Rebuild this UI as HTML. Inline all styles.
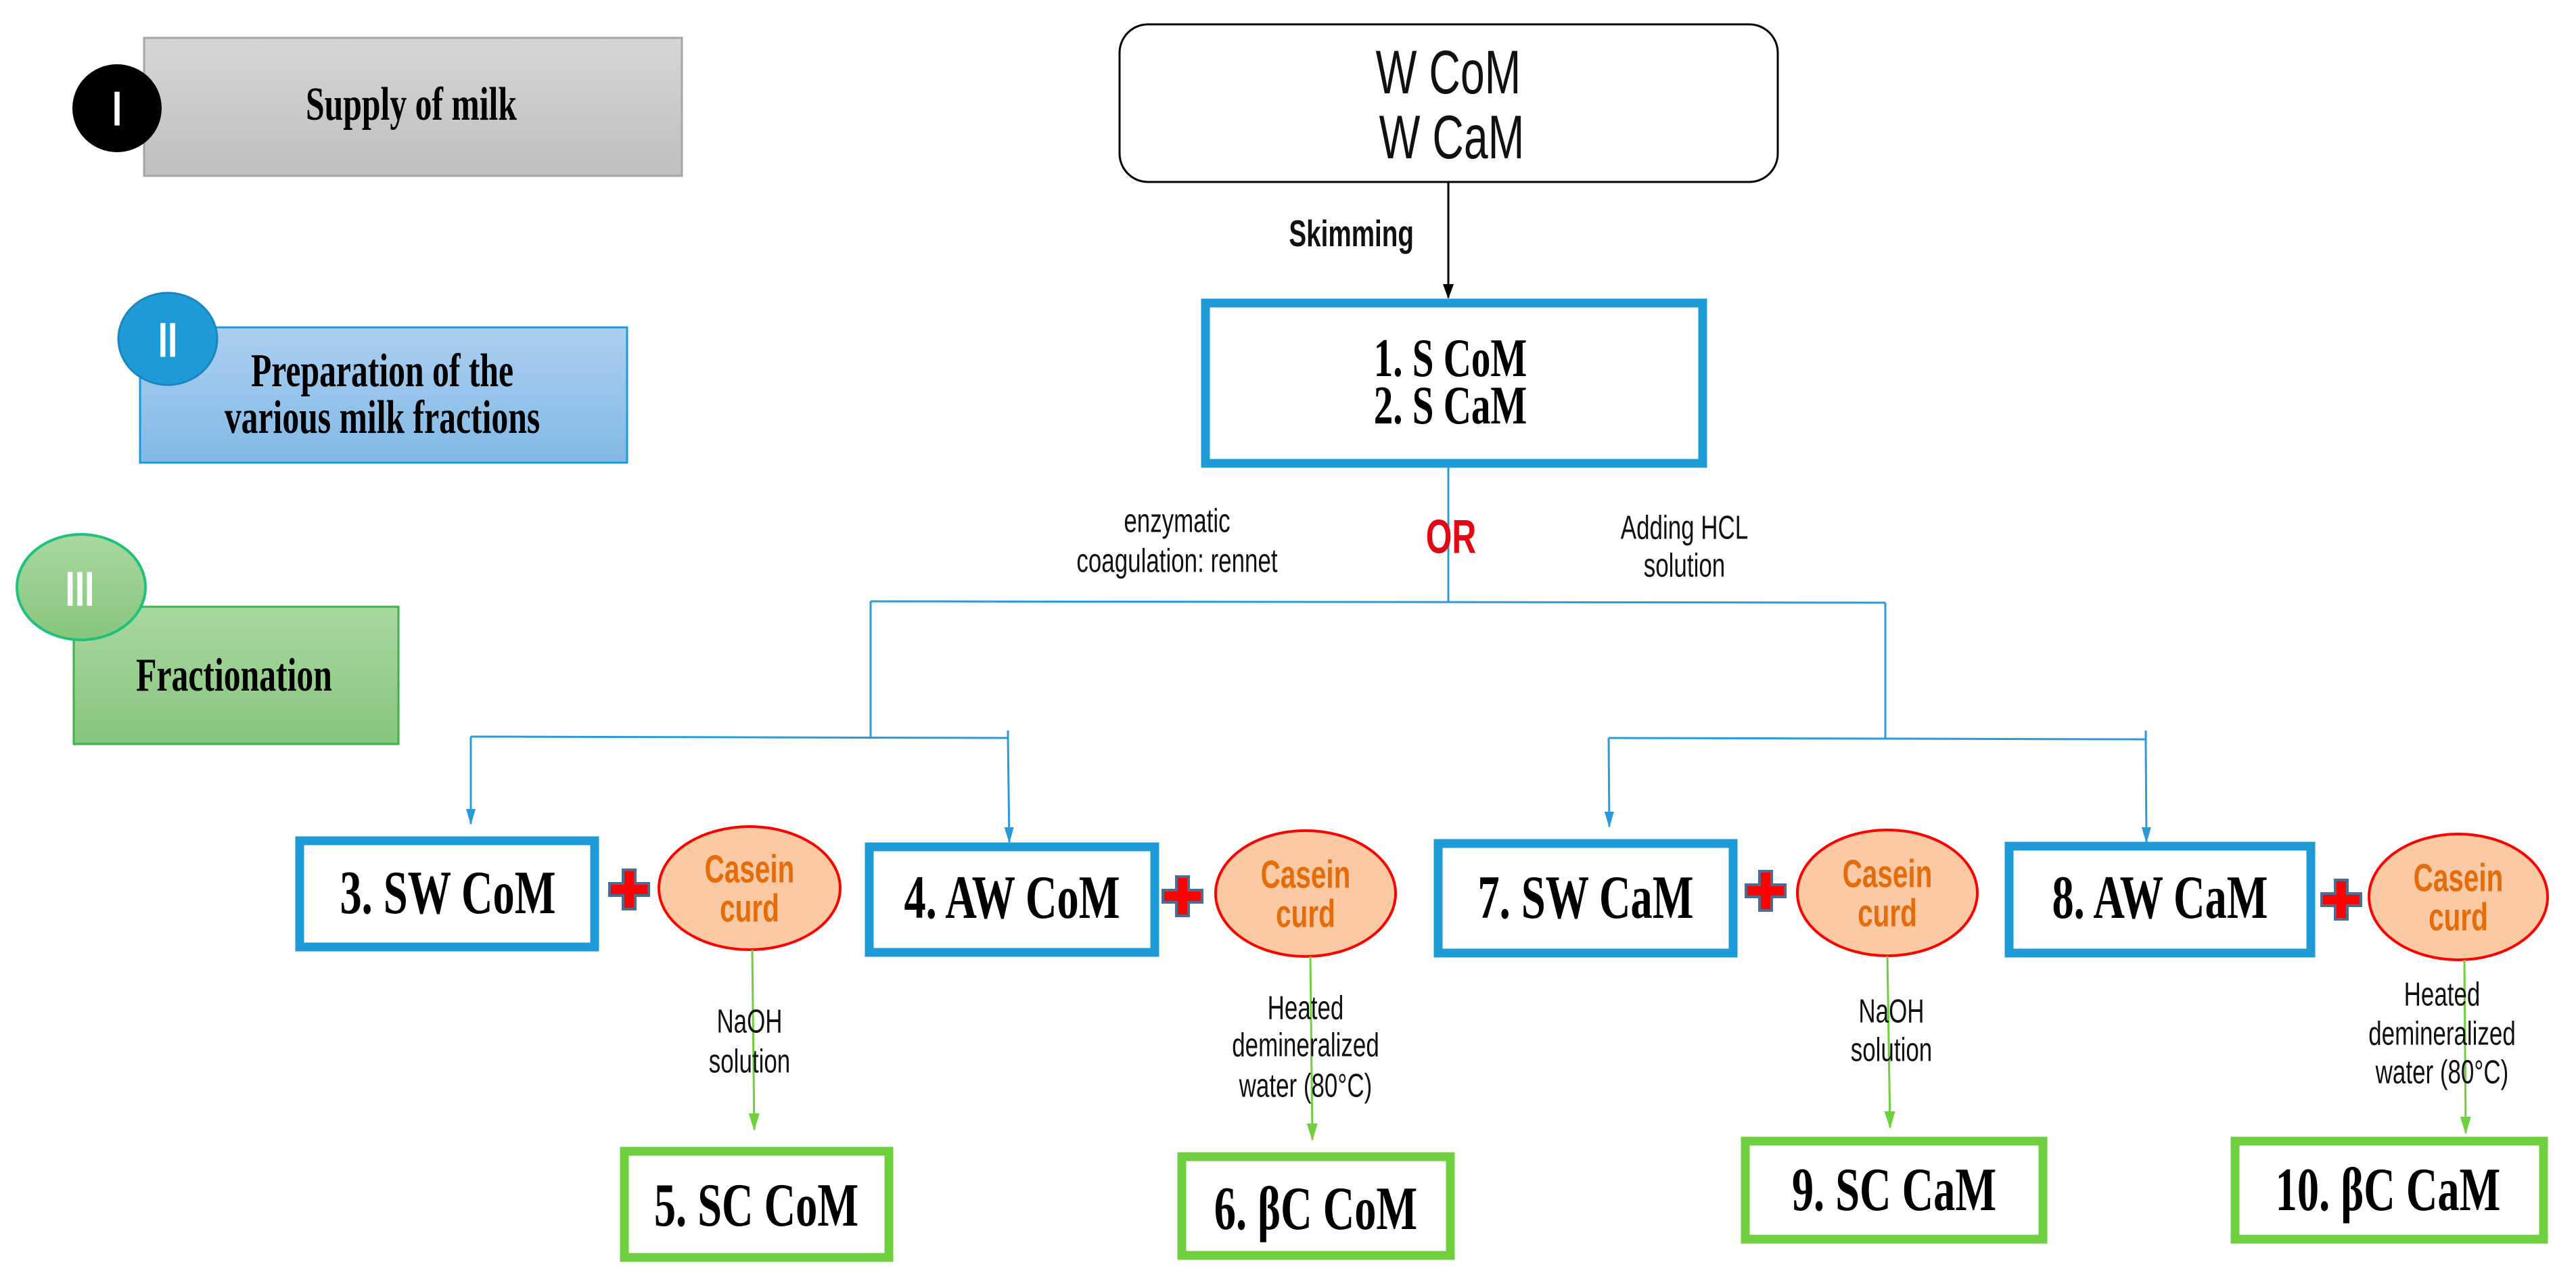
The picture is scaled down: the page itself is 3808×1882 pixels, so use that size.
<!DOCTYPE html>
<html><head><meta charset="utf-8"><style>
html,body{margin:0;padding:0;background:#fff;}
svg{display:block;}
text{transform-box:fill-box;transform-origin:center;transform:scale(0.92,1.3);}
.sv{font-family:"Liberation Serif",serif;font-weight:bold;fill:#000;}
.sa{font-family:"Liberation Sans",sans-serif;fill:#111;}
.cc{font-family:"Liberation Sans",sans-serif;font-weight:bold;fill:#e46c0a;font-size:44px;}
</style></head><body>
<svg width="3808" height="1882" viewBox="0 0 3808 1882" xmlns="http://www.w3.org/2000/svg">
<defs>
<linearGradient id="gg" x1="0" y1="0" x2="0" y2="1"><stop offset="0" stop-color="#d6d6d6"/><stop offset="1" stop-color="#bfbfbf"/></linearGradient>
<linearGradient id="bg" x1="0" y1="0" x2="0" y2="1"><stop offset="0" stop-color="#abcff0"/><stop offset="1" stop-color="#82b9e5"/></linearGradient>
<linearGradient id="gr" x1="0" y1="0" x2="0" y2="1"><stop offset="0" stop-color="#a9d7a0"/><stop offset="1" stop-color="#86c77c"/></linearGradient>
<marker id="ab" markerWidth="24" markerHeight="14" refX="22" refY="7" orient="auto" markerUnits="userSpaceOnUse"><path d="M0,0 L24,7 L0,14 Z" fill="#2b9bd8"/></marker>
<marker id="ag" markerWidth="26" markerHeight="16" refX="24" refY="8" orient="auto" markerUnits="userSpaceOnUse"><path d="M0,0 L26,8 L0,16 Z" fill="#6fcf3f"/></marker>
<marker id="ak" markerWidth="22" markerHeight="16" refX="20" refY="8" orient="auto" markerUnits="userSpaceOnUse"><path d="M0,0 L22,8 L0,16 Z" fill="#000"/></marker>
</defs>

<!-- Stage I -->
<rect x="213" y="56" width="795" height="204" fill="url(#gg)" stroke="#a6a6a6" stroke-width="3"/>
<ellipse cx="173" cy="160" rx="66" ry="65" fill="#000"/>
<text x="173" y="180" text-anchor="middle" font-family="Liberation Sans,sans-serif" font-weight="bold" font-size="56" fill="#fff">I</text>
<text x="608" y="172" text-anchor="middle" class="sv" font-size="54">Supply of milk</text>

<!-- Stage II -->
<rect x="207" y="484" width="720" height="200" fill="url(#bg)" stroke="#1e9bd7" stroke-width="3"/>
<ellipse cx="248" cy="501" rx="73" ry="68" fill="#1e9bd7" stroke="#1a86c0" stroke-width="3"/>
<text x="248" y="522" text-anchor="middle" font-family="Liberation Sans,sans-serif" font-weight="bold" font-size="56" fill="#fff">II</text>
<text x="565" y="566" text-anchor="middle" class="sv" font-size="54">Preparation of the</text>
<text x="565" y="635" text-anchor="middle" class="sv" font-size="54">various milk fractions</text>

<!-- Stage III -->
<rect x="109" y="897" width="480" height="203" fill="url(#gr)" stroke="#3fb24a" stroke-width="3"/>
<ellipse cx="120" cy="868" rx="95" ry="78" fill="url(#gr)" stroke="#1ec27a" stroke-width="4"/>
<text x="118" y="890" text-anchor="middle" font-family="Liberation Sans,sans-serif" font-weight="bold" font-size="56" fill="#fff">III</text>
<text x="346" y="1016" text-anchor="middle" class="sv" font-size="54">Fractionation</text>

<!-- Top rounded box -->
<rect x="1655" y="36" width="973" height="233" rx="42" fill="#fff" stroke="#000" stroke-width="3"/>
<text x="2141" y="131" text-anchor="middle" class="sa" font-size="70">W CoM</text>
<text x="2146" y="227" text-anchor="middle" class="sa" font-size="70">W CaM</text>

<line x1="2141" y1="269" x2="2141" y2="440" stroke="#000" stroke-width="3" marker-end="url(#ak)"/>
<text x="2098" y="360" text-anchor="end" class="sa" font-weight="bold" font-size="42">Skimming</text>

<!-- Box 1 -->
<rect x="1782" y="448" width="735" height="237" fill="#fff" stroke="#1e9bd7" stroke-width="13"/>
<text x="2144" y="550" text-anchor="middle" class="sv" font-size="62">1. S CoM</text>
<text x="2144" y="620" text-anchor="middle" class="sv" font-size="62">2. S CaM</text>

<!-- Branch lines -->
<g stroke="#2b9bd8" stroke-width="3" fill="none">
<line x1="2141" y1="691" x2="2141" y2="889"/>
<line x1="1287" y1="889" x2="2787" y2="891"/>
<line x1="1287" y1="889" x2="1287" y2="1091"/>
<line x1="2787" y1="891" x2="2787" y2="1093"/>
<line x1="696" y1="1089" x2="1490" y2="1091"/>
<line x1="2378" y1="1091" x2="3172" y2="1093"/>
<line x1="1490" y1="1080" x2="1490" y2="1091"/>
<line x1="3172" y1="1080" x2="3172" y2="1093"/>
<line x1="696" y1="1089" x2="696" y2="1218" marker-end="url(#ab)"/>
<line x1="1490" y1="1091" x2="1492" y2="1245" marker-end="url(#ab)"/>
<line x1="2378" y1="1091" x2="2379" y2="1222" marker-end="url(#ab)"/>
<line x1="3172" y1="1093" x2="3173" y2="1245" marker-end="url(#ab)"/>
</g>
<text x="2145" y="812" text-anchor="middle" font-family="Liberation Sans,sans-serif" font-weight="bold" font-size="54" fill="#e30613">OR</text>
<text x="1740" y="783" text-anchor="middle" class="sa" font-size="38">enzymatic</text>
<text x="1740" y="842" text-anchor="middle" class="sa" font-size="38">coagulation: rennet</text>
<text x="2490" y="793" text-anchor="middle" class="sa" font-size="38">Adding HCL</text>
<text x="2490" y="849" text-anchor="middle" class="sa" font-size="38">solution</text>

<!-- Row of boxes -->
<g fill="#fff" stroke="#1e9bd7" stroke-width="13">
<rect x="443" y="1243" width="436" height="157"/>
<rect x="1285" y="1252" width="422" height="156"/>
<rect x="2126" y="1247" width="436" height="162"/>
<rect x="2970" y="1251" width="446" height="158"/>
</g>
<text x="662" y="1343" text-anchor="middle" class="sv" font-size="70">3. SW CoM</text>
<text x="1496" y="1350" text-anchor="middle" class="sv" font-size="70">4. AW CoM</text>
<text x="2344" y="1350" text-anchor="middle" class="sv" font-size="70">7. SW CaM</text>
<text x="3193" y="1350" text-anchor="middle" class="sv" font-size="70">8. AW CaM</text>

<!-- plus signs -->
<g fill="#f00" stroke="#4a6d94" stroke-width="4">
<path d="M921,1286 h18 v20 h20 v18 h-20 v20 h-18 v-20 h-20 v-18 h20 z"/>
<path d="M1739,1296 h18 v20 h20 v18 h-20 v20 h-18 v-20 h-20 v-18 h20 z"/>
<path d="M2601,1288 h18 v20 h20 v18 h-20 v20 h-18 v-20 h-20 v-18 h20 z"/>
<path d="M3452,1301 h18 v20 h20 v18 h-20 v20 h-18 v-20 h-20 v-18 h20 z"/>
</g>

<!-- casein circles -->
<g fill="#fcc9a5" stroke="#f00" stroke-width="4">
<ellipse cx="1108" cy="1313" rx="134" ry="91"/>
<ellipse cx="1930" cy="1321" rx="133" ry="93"/>
<ellipse cx="2790" cy="1320" rx="133" ry="93"/>
<ellipse cx="3634" cy="1326" rx="132" ry="93"/>
</g>
<text x="1108" y="1300" text-anchor="middle" class="cc">Casein</text>
<text x="1108" y="1358" text-anchor="middle" class="cc">curd</text>
<text x="1930" y="1308" text-anchor="middle" class="cc">Casein</text>
<text x="1930" y="1366" text-anchor="middle" class="cc">curd</text>
<text x="2790" y="1307" text-anchor="middle" class="cc">Casein</text>
<text x="2790" y="1365" text-anchor="middle" class="cc">curd</text>
<text x="3634" y="1313" text-anchor="middle" class="cc">Casein</text>
<text x="3634" y="1371" text-anchor="middle" class="cc">curd</text>

<!-- green arrows -->
<g stroke="#6fcf3f" stroke-width="3">
<line x1="1112" y1="1404" x2="1115" y2="1670" marker-end="url(#ag)"/>
<line x1="1937" y1="1414" x2="1940" y2="1685" marker-end="url(#ag)"/>
<line x1="2790" y1="1413" x2="2794" y2="1667" marker-end="url(#ag)"/>
<line x1="3643" y1="1419" x2="3645" y2="1675" marker-end="url(#ag)"/>
</g>
<text x="1108" y="1523" text-anchor="middle" class="sa" font-size="38">NaOH</text>
<text x="1108" y="1582" text-anchor="middle" class="sa" font-size="38">solution</text>
<text x="1930" y="1503" text-anchor="middle" class="sa" font-size="38">Heated</text>
<text x="1930" y="1558" text-anchor="middle" class="sa" font-size="38">demineralized</text>
<text x="1930" y="1618" text-anchor="middle" class="sa" font-size="38">water (80°C)</text>
<text x="2796" y="1508" text-anchor="middle" class="sa" font-size="38">NaOH</text>
<text x="2796" y="1565" text-anchor="middle" class="sa" font-size="38">solution</text>
<text x="3610" y="1483" text-anchor="middle" class="sa" font-size="38">Heated</text>
<text x="3610" y="1541" text-anchor="middle" class="sa" font-size="38">demineralized</text>
<text x="3610" y="1598" text-anchor="middle" class="sa" font-size="38">water (80°C)</text>

<!-- bottom green boxes -->
<g fill="#fff" stroke="#6fcf3f" stroke-width="13">
<rect x="923" y="1702" width="391" height="157"/>
<rect x="1747" y="1710" width="397" height="146"/>
<rect x="2580" y="1687" width="440" height="145"/>
<rect x="3304" y="1687" width="456" height="145"/>
</g>
<text x="1118" y="1805" text-anchor="middle" class="sv" font-size="70">5. SC CoM</text>
<text x="1945" y="1810" text-anchor="middle" class="sv" font-size="70">6. βC CoM</text>
<text x="2800" y="1782" text-anchor="middle" class="sv" font-size="70">9. SC CaM</text>
<text x="3530" y="1782" text-anchor="middle" class="sv" font-size="70">10. βC CaM</text>
</svg>
</body></html>
